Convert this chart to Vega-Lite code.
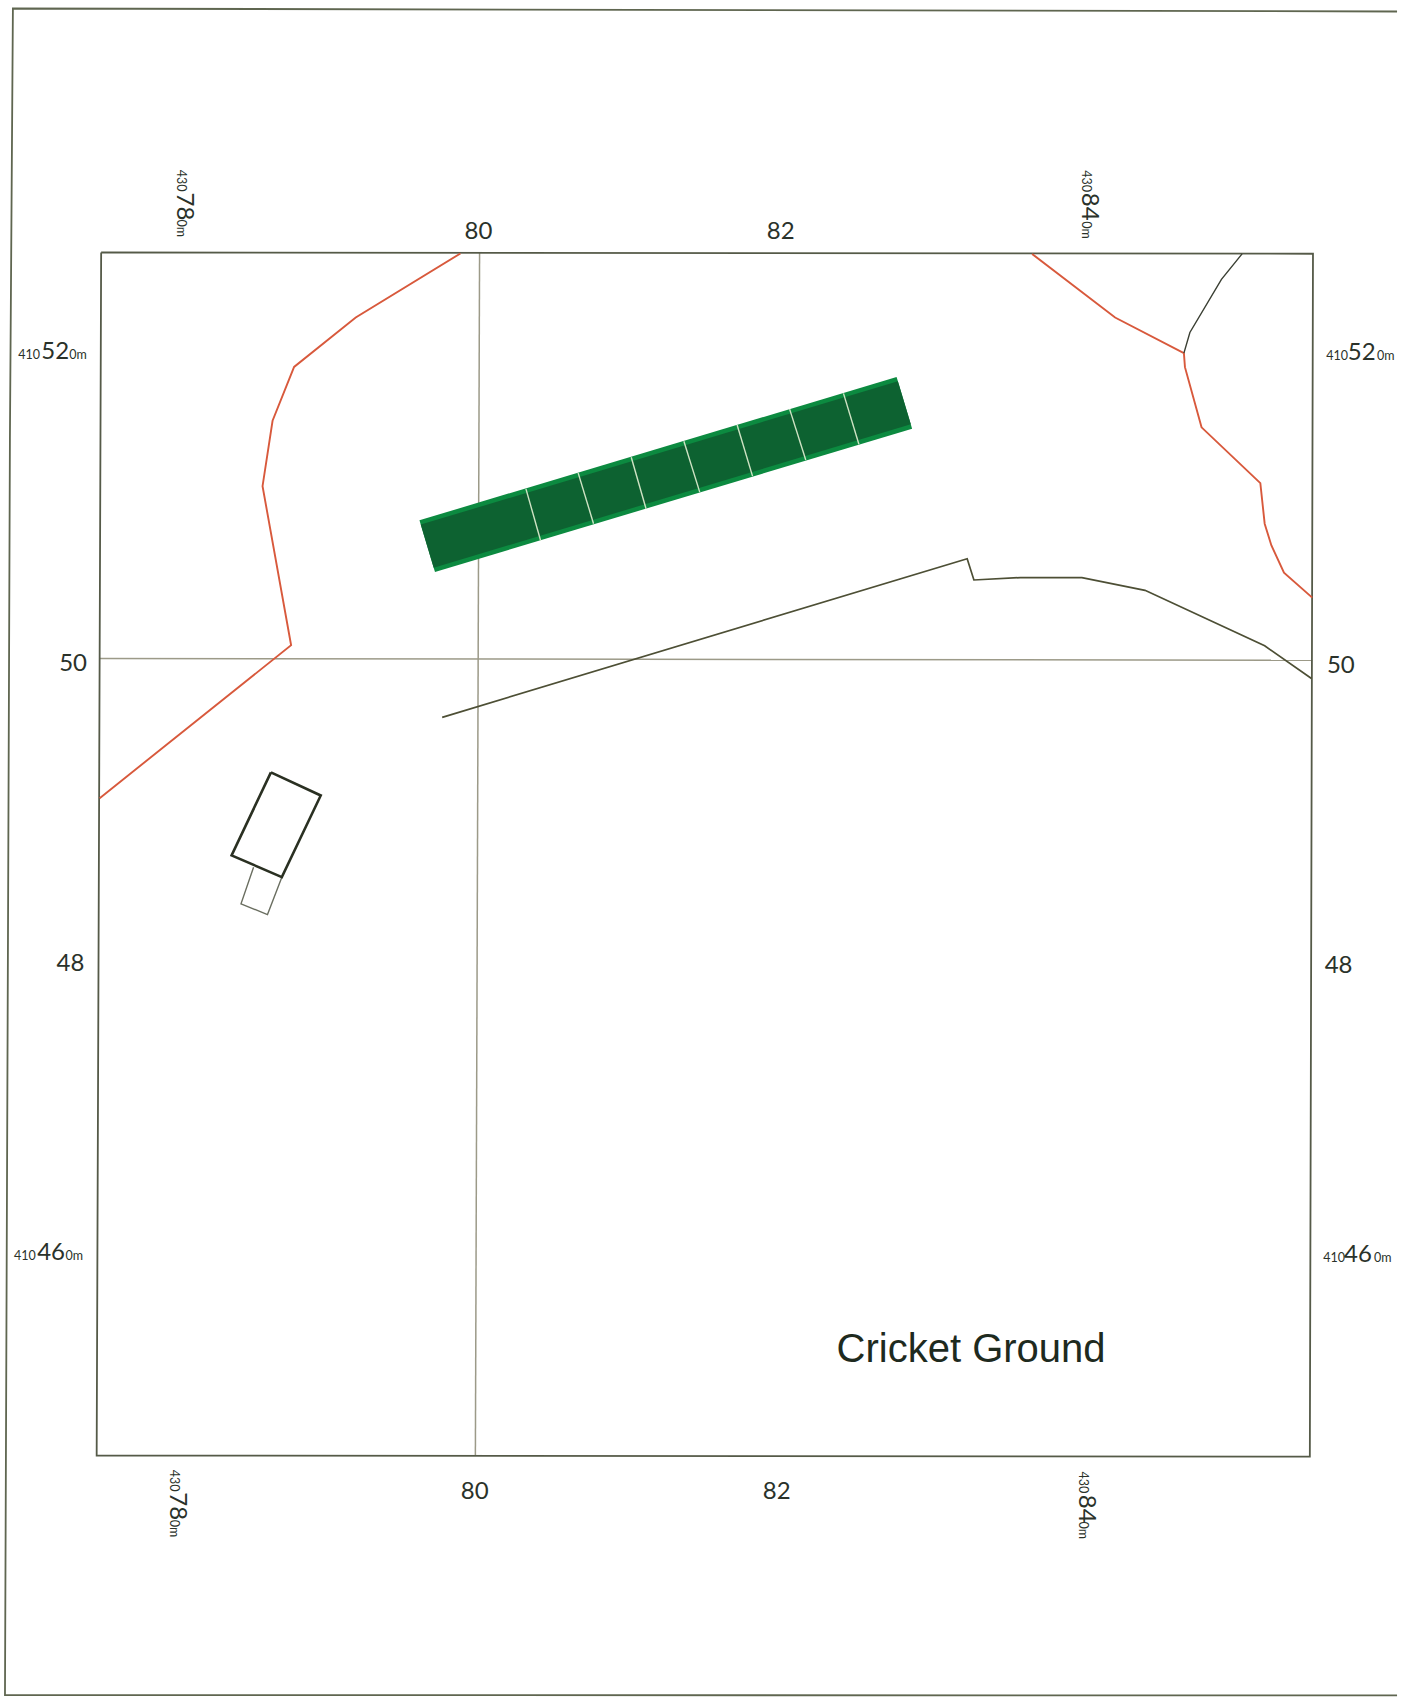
{
"$schema":"https://vega.github.io/schema/vega-lite/v6.json",
"autosize":{"type":"fit","contains":"padding"},
"width":1401,"height":1700,"padding":0,
"background":"#ffffff",
"config":{"view":{"stroke":null}},
"datasets":{
"paths":[
{"feature":"sheet","part":"sheet","seq":1,"east":61.47,"north":43.3},
{"feature":"sheet","part":"sheet","seq":2,"east":-31.07,"north":43.5},
{"feature":"sheet","part":"sheet","seq":3,"east":-31.27,"north":14.73},
{"feature":"sheet","part":"sheet","seq":4,"east":-31.4,"north":-18.6},
{"feature":"sheet","part":"sheet","seq":5,"east":-31.6,"north":-69.2},
{"feature":"sheet","part":"sheet","seq":6,"east":61.47,"north":-69.23},
{"feature":"grid","part":"v80","seq":1,"east":0.13,"north":27.2},
{"feature":"grid","part":"v80","seq":2,"east":-0.15,"north":-53.2},
{"feature":"grid","part":"h50","seq":1,"east":-25.27,"north":0.07},
{"feature":"grid","part":"h50","seq":2,"east":55.8,"north":-0.05},
{"feature":"frame","part":"frame","seq":1,"east":-25.17,"north":27.2},
{"feature":"frame","part":"frame","seq":2,"east":55.85,"north":27.11},
{"feature":"frame","part":"frame","seq":3,"east":55.64,"north":-53.27},
{"feature":"frame","part":"frame","seq":4,"east":-25.47,"north":-53.2},
{"feature":"frame","part":"frame","seq":5,"east":-25.17,"north":27.2},
{"feature":"boundary","part":"west","seq":1,"east":-1.15,"north":27.13},
{"feature":"boundary","part":"west","seq":2,"east":-8.15,"north":22.85},
{"feature":"boundary","part":"west","seq":3,"east":-12.27,"north":19.55},
{"feature":"boundary","part":"west","seq":4,"east":-13.71,"north":15.95},
{"feature":"boundary","part":"west","seq":5,"east":-14.38,"north":11.58},
{"feature":"boundary","part":"west","seq":6,"east":-12.47,"north":0.95},
{"feature":"boundary","part":"west","seq":7,"east":-25.27,"north":-9.27},
{"feature":"boundary","part":"east","seq":1,"east":37.07,"north":27.1},
{"feature":"boundary","part":"east","seq":2,"east":42.62,"north":22.85},
{"feature":"boundary","part":"east","seq":3,"east":47.22,"north":20.47},
{"feature":"boundary","part":"east","seq":4,"east":47.29,"north":19.53},
{"feature":"boundary","part":"east","seq":5,"east":48.4,"north":15.51},
{"feature":"boundary","part":"east","seq":6,"east":52.33,"north":11.78},
{"feature":"boundary","part":"east","seq":7,"east":52.62,"north":9.07},
{"feature":"boundary","part":"east","seq":8,"east":53.07,"north":7.62},
{"feature":"boundary","part":"east","seq":9,"east":53.91,"north":5.8},
{"feature":"boundary","part":"east","seq":10,"east":55.8,"north":4.13},
{"feature":"branch","part":"branch","seq":1,"east":47.22,"north":20.47},
{"feature":"branch","part":"branch","seq":2,"east":47.62,"north":21.85},
{"feature":"branch","part":"branch","seq":3,"east":49.73,"north":25.4},
{"feature":"branch","part":"branch","seq":4,"east":51.11,"north":27.1},
{"feature":"road","part":"road","seq":1,"east":-2.37,"north":-3.87},
{"feature":"road","part":"road","seq":2,"east":32.73,"north":6.73},
{"feature":"road","part":"road","seq":3,"east":33.18,"north":5.31},
{"feature":"road","part":"road","seq":4,"east":36.29,"north":5.47},
{"feature":"road","part":"road","seq":5,"east":40.4,"north":5.47},
{"feature":"road","part":"road","seq":6,"east":44.62,"north":4.62},
{"feature":"road","part":"road","seq":7,"east":52.62,"north":0.91},
{"feature":"road","part":"road","seq":8,"east":55.75,"north":-1.27},
{"feature":"annex","part":"annex","seq":1,"east":-14.98,"north":-13.89},
{"feature":"annex","part":"annex","seq":2,"east":-15.82,"north":-16.33},
{"feature":"annex","part":"annex","seq":3,"east":-14.05,"north":-17.05},
{"feature":"annex","part":"annex","seq":4,"east":-13.09,"north":-14.55},
{"feature":"hut","part":"hut","seq":1,"east":-13.82,"north":-7.55},
{"feature":"hut","part":"hut","seq":2,"east":-10.49,"north":-9.09},
{"feature":"hut","part":"hut","seq":3,"east":-13.09,"north":-14.55},
{"feature":"hut","part":"hut","seq":4,"east":-16.45,"north":-13.09},
{"feature":"hut","part":"hut","seq":5,"east":-13.82,"north":-7.55},
{"feature":"pitch edge","part":"edge","seq":1,"east":-3.37,"north":7.57},
{"feature":"pitch edge","part":"edge","seq":2,"east":28.53,"north":17.15},
{"feature":"pitch core","part":"core","seq":1,"east":-3.37,"north":7.57},
{"feature":"pitch core","part":"core","seq":2,"east":28.53,"north":17.15},
{"feature":"divider","part":"d1","seq":1,"east":3.23,"north":11.4},
{"feature":"divider","part":"d1","seq":2,"east":4.21,"north":7.95},
{"feature":"divider","part":"d2","seq":1,"east":6.72,"north":12.47},
{"feature":"divider","part":"d2","seq":2,"east":7.75,"north":9.07},
{"feature":"divider","part":"d3","seq":1,"east":10.27,"north":13.51},
{"feature":"divider","part":"d3","seq":2,"east":11.26,"north":10.07},
{"feature":"divider","part":"d4","seq":1,"east":13.79,"north":14.58},
{"feature":"divider","part":"d4","seq":2,"east":14.85,"north":11.18},
{"feature":"divider","part":"d5","seq":1,"east":17.35,"north":15.67},
{"feature":"divider","part":"d5","seq":2,"east":18.38,"north":12.25},
{"feature":"divider","part":"d6","seq":1,"east":20.86,"north":16.73},
{"feature":"divider","part":"d6","seq":2,"east":21.94,"north":13.33},
{"feature":"divider","part":"d7","seq":1,"east":24.46,"north":17.78},
{"feature":"divider","part":"d7","seq":2,"east":25.49,"north":14.38}
],
"flat":[
{"text":"80","cls":"mid","east":-0.87,"north":28.07},
{"text":"82","cls":"mid","east":19.33,"north":28.07},
{"text":"80","cls":"mid","east":-1.13,"north":-56.07},
{"text":"82","cls":"mid","east":19.07,"north":-56.07},
{"text":"50","cls":"mid","east":-27.98,"north":-0.77},
{"text":"48","cls":"mid","east":-28.15,"north":-20.82},
{"text":"50","cls":"mid","east":56.78,"north":-0.93},
{"text":"48","cls":"mid","east":56.63,"north":-20.93},
{"text":"410","cls":"small","east":-30.71,"north":20.1},
{"text":"52","cls":"large","east":-29.17,"north":20.1},
{"text":"0m","cls":"small","east":-27.3,"north":20.1},
{"text":"410","cls":"small","east":56.73,"north":20.02},
{"text":"52","cls":"large","east":58.18,"north":20.02},
{"text":"0m","cls":"small","east":60.13,"north":20.02},
{"text":"410","cls":"small","east":-31,"north":-40.11},
{"text":"46","cls":"large","east":-29.45,"north":-40.11},
{"text":"0m","cls":"small","east":-27.55,"north":-40.11},
{"text":"410","cls":"small","east":56.53,"north":-40.27},
{"text":"46","cls":"large","east":57.93,"north":-40.27},
{"text":"0m","cls":"small","east":59.93,"north":-40.27}
],
"turned":[
{"text":"430","cls":"small","east":-20.13,"north":32.73},
{"text":"78","cls":"large","east":-20.13,"north":31.2},
{"text":"0m","cls":"small","east":-20.13,"north":29.4},
{"text":"430","cls":"small","east":40.4,"north":32.69},
{"text":"84","cls":"large","east":40.4,"north":31.18},
{"text":"0m","cls":"small","east":40.4,"north":29.29},
{"text":"430","cls":"small","east":-20.55,"north":-54.15},
{"text":"78","cls":"large","east":-20.55,"north":-55.65},
{"text":"0m","cls":"small","east":-20.55,"north":-57.49},
{"text":"430","cls":"small","east":40.18,"north":-54.27},
{"text":"84","cls":"large","east":40.18,"north":-55.82},
{"text":"0m","cls":"small","east":40.18,"north":-57.6}
],
"title":[{"text":"Cricket Ground","east":24,"north":-46.98}]
},
"encoding":{
"x":{"field":"east","type":"quantitative","axis":null,"scale":{"domain":[-31.933,61.467],"nice":false,"zero":false}},
"y":{"field":"north","type":"quantitative","axis":null,"scale":{"domain":[-69.267,44.067],"nice":false,"zero":false}}
},
"layer":[
{"data":{"name":"paths"},
"transform":[{"filter":"datum.feature !== 'pitch edge' && datum.feature !== 'pitch core' && datum.feature !== 'divider'"}],
"mark":{"type":"line","strokeCap":"butt","strokeJoin":"miter","clip":false},
"encoding":{
"detail":{"field":"part"},
"order":{"field":"seq","type":"quantitative"},
"color":{"field":"feature","type":"nominal","legend":null,"scale":{"domain":["sheet","grid","frame","boundary","branch","road","annex","hut"],"range":["#5f6650","#9c9a88","#555a48","#d8593c","#3a3f33","#4d4f35","#6a6e60","#2a3022"]}},
"strokeWidth":{"field":"feature","type":"nominal","legend":null,"scale":{"type":"ordinal","domain":["sheet","grid","frame","boundary","branch","road","annex","hut"],"range":[1.8,1.5,1.8,1.9,1.4,1.7,1.4,2.6]}}
}},
{"data":{"name":"paths"},"transform":[{"filter":"datum.feature === 'pitch edge'"}],
"mark":{"type":"line","strokeCap":"butt","strokeWidth":54,"color":"#0c8a40"},
"encoding":{"order":{"field":"seq","type":"quantitative"}}},
{"data":{"name":"paths"},"transform":[{"filter":"datum.feature === 'pitch core'"}],
"mark":{"type":"line","strokeCap":"butt","strokeWidth":45,"color":"#0d6231"},
"encoding":{"order":{"field":"seq","type":"quantitative"}}},
{"data":{"name":"paths"},"transform":[{"filter":"datum.feature === 'divider'"}],
"mark":{"type":"line","strokeCap":"butt","strokeWidth":1.4,"color":"#cfe3c4"},
"encoding":{"detail":{"field":"part"},"order":{"field":"seq","type":"quantitative"}}},
{"data":{"name":"flat"},
"mark":{"type":"text","font":"Lato","align":"left","baseline":"alphabetic","color":"#2a322a"},
"encoding":{"text":{"field":"text"},"size":{"field":"cls","type":"nominal","legend":null,"scale":{"type":"ordinal","domain":["small","mid","large"],"range":[12.5,24,24]}}}},
{"data":{"name":"turned"},
"mark":{"type":"text","font":"Lato","align":"left","baseline":"alphabetic","angle":90,"color":"#2a322a"},
"encoding":{"text":{"field":"text"},"size":{"field":"cls","type":"nominal","legend":null,"scale":{"type":"ordinal","domain":["small","mid","large"],"range":[12.5,24,24]}}}},
{"data":{"name":"title"},
"mark":{"type":"text","font":"Liberation Sans","fontSize":40,"align":"left","baseline":"alphabetic","color":"#1e2a1e"},
"encoding":{"text":{"field":"text"}}}
]
}
